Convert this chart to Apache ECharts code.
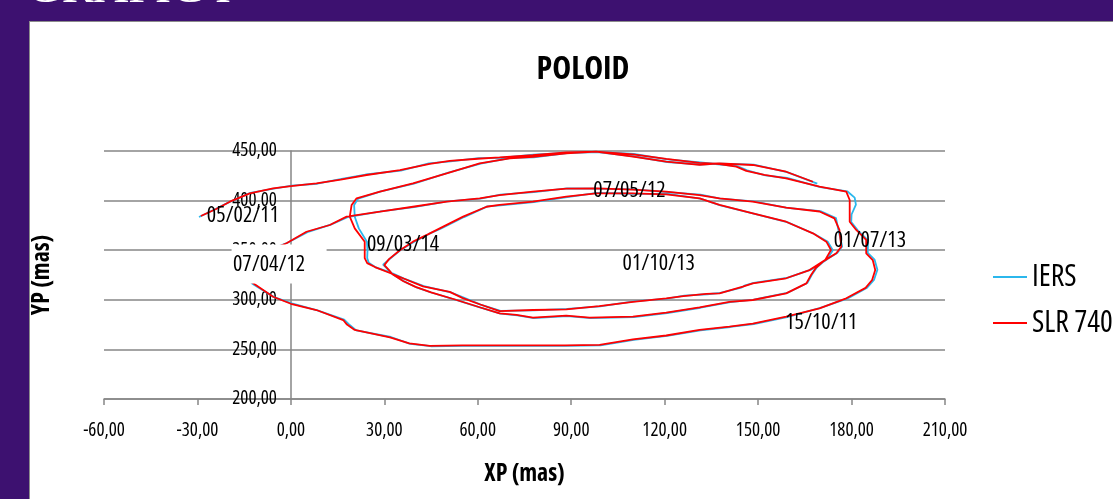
<!DOCTYPE html>
<html><head><meta charset="utf-8">
<script src="https://cdn.jsdelivr.net/npm/echarts@6/dist/echarts.min.js"></script>
<style>
html,body{margin:0;padding:0;width:1113px;height:499px;overflow:hidden;background:#3d1170;}
#frame{position:absolute;left:29px;top:21px;width:1200px;height:600px;background:#fff;border:1.5px solid #8c8c8c;box-sizing:border-box;}
#chart{position:absolute;left:0;top:0;width:1113px;height:499px;}
</style></head><body>
<div id="frame"></div><div id="chart"></div>
<script>
// ---- data (XP, YP in mas) ----
const seriesNames = ['IERS', 'SLR 7400'];
const xTickMin = -60, xTickMax = 210, xTickStep = 30;
const yTickMin = 200, yTickMax = 450, yTickStep = 50;

const slr = [
[-28.9,384.5],[-24.0,391.5],[-19.6,398.9],[-13.2,407.3],[-5.7,412.4],[0.0,414.5],[8.2,417.4],[16.0,421.2],[24.3,425.8],[35.0,430.8],[44.6,437.0],[51.0,440.0],[60.0,442.2],[67.0,443.5],[77.7,445.8],[88.4,448.6],[98.0,449.3],[109.8,446.5],[120.5,442.0],[131.2,438.0],[137.6,436.9],[143.0,434.2],[146.2,430.0],[152.0,426.0],[159.0,422.4],[169.7,414.0],[178.3,409.0],[179.4,400.6],[179.4,378.7],[181.5,370.4],[184.7,360.3],[184.7,346.9],[186.8,340.1],[187.6,330.0],[186.6,320.0],[184.5,312.0],[178.3,301.5],[169.7,291.4],[159.0,283.0],[148.3,276.0],[140.8,273.0],[131.2,269.6],[120.5,264.0],[109.8,260.0],[99.1,254.5],[88.0,254.0],[77.7,254.0],[67.0,254.0],[55.0,254.0],[44.6,253.6],[38.0,256.0],[31.8,262.2],[20.5,269.6],[18.0,275.0],[16.8,279.6],[8.2,289.7],[0.0,296.0],[-5.7,303.1],[-12.1,316.6],
[-15.0,326.0],[-15.0,335.0],[-11.0,345.0],[-6.0,351.0],[-1.4,357.0],
[5.0,368.6],[12.5,375.4],[17.9,383.8],[28.6,388.8],[39.2,393.8],[50.0,398.9],[60.6,402.3],[67.0,405.6],[77.7,409.0],[88.4,412.0],[98.0,412.4],[109.8,411.0],[120.5,409.0],[131.2,405.6],[137.6,402.3],[148.3,398.9],[159.0,393.0],[169.7,389.0],[174.5,382.1],[176.1,370.4],[176.7,353.5],[175.1,346.9],[171.0,339.0],[168.5,332.0],[167.0,325.0],[165.5,316.6],[159.0,306.5],[148.3,299.8],[140.8,298.0],[131.2,292.4],[120.5,287.1],[109.8,283.0],[95.9,282.0],[88.4,284.0],[77.7,282.0],[72.4,284.7],[67.0,286.4],[60.6,292.5],[53.2,299.8],[45.0,307.5],[40.0,313.0],[36.0,319.0],[32.5,326.0],[31.5,330.0],[30.0,335.0],
[31.5,341.0],[35.0,350.0],[39.2,358.6],[44.0,366.0],[47.8,372.0],[55.3,383.8],[62.8,393.8],[67.0,395.6],[77.7,398.9],[88.4,404.0],[98.0,407.3],[109.8,407.3],[120.5,406.3],[131.2,402.3],[137.6,395.6],[148.3,387.2],[159.0,378.7],[167.6,367.0],[171.9,358.6],[173.4,350.2],[171.5,340.0],[166.5,330.0],[159.0,321.7],[148.3,316.6],[145.1,313.2],[137.6,306.5],[133.4,306.0],[126.0,303.8],[120.5,301.5],[109.8,298.0],[99.0,293.7],[88.4,290.4],[77.7,289.7],[67.0,288.5],[60.6,295.5],[55.0,302.0],[51.0,308.0],[42.4,313.5],[36.0,321.7],[31.8,327.0],[27.0,333.0],[24.5,337.0],[23.7,342.0],[23.7,350.0],[23.7,358.6],[20.5,372.0],[18.9,383.8],[19.5,395.6],[21.1,402.3],
[28.6,409.0],[39.2,417.4],[50.0,427.5],[60.6,437.6],[70.3,442.6],[77.7,444.0],[88.4,447.6],[98.0,449.3],[109.8,444.3],[120.5,439.3],[131.2,436.0],[137.6,437.6],[148.3,435.9],[159.0,429.1],[167.6,419.0]
];

const iers = [
[-29.5,383.5],[-24.5,391.0],[-19.8,398.5],[-13.0,407.8],[-5.5,412.0],[0.3,415.0],[8.5,417.0],[16.3,421.8],[24.0,426.3],[35.3,430.3],[44.3,437.5],[51.3,439.6],[60.3,442.8],[67.3,443.0],[77.9,446.3],[88.1,448.1],[98.3,449.0],[110.1,447.0],[120.8,441.5],[131.5,438.4],[137.9,436.4],[143.3,434.7],[146.5,430.4],[152.3,425.5],[159.3,422.8],[170.0,413.6],[178.6,409.4],[181.0,403.0],[181.4,396.0],[180.0,386.0],[179.9,378.4],[182.0,370.0],[185.3,360.0],[185.2,347.2],[187.4,340.4],[188.3,330.3],[187.2,320.0],[185.0,312.3],[178.6,301.1],[170.0,291.8],[159.3,282.6],[148.6,275.6],[141.1,272.6],[131.5,269.2],[120.8,263.6],[110.1,259.6],[99.4,254.0],[88.3,253.5],[78.0,253.5],[67.3,253.5],[55.3,253.5],[44.9,253.2],[38.3,255.6],[32.1,262.5],[21.0,269.2],[18.6,275.5],[17.1,280.0],[8.5,289.3],[0.3,296.4],[-5.4,302.7],[-12.4,316.2],
[-15.3,326.0],[-15.3,335.0],[-11.3,345.0],[-6.3,351.2],[-1.1,357.5],
[5.3,368.2],[12.8,375.8],[18.2,383.4],[28.9,389.2],[39.5,393.4],[50.3,399.3],[60.9,401.9],[67.3,406.0],[78.0,408.6],[88.7,412.4],[98.3,412.0],[110.1,411.4],[120.8,408.6],[131.5,406.0],[137.9,401.9],[148.6,399.3],[159.3,392.6],[170.0,389.4],[175.0,382.5],[175.8,370.0],[177.0,353.8],[175.4,347.2],[171.3,339.4],[168.8,332.4],[167.3,325.4],[165.8,317.0],[159.3,306.9],[148.6,300.2],[141.1,297.6],[131.5,292.0],[120.8,286.7],[110.1,282.6],[96.2,281.6],[88.7,283.6],[78.0,281.6],[72.7,284.3],[67.3,286.0],[60.9,292.1],[53.5,299.4],[45.3,307.1],[40.3,312.6],[36.3,318.6],[32.8,325.6],[31.2,330.4],[29.6,335.4],
[31.8,341.4],[35.3,350.4],[39.5,358.2],[44.3,366.4],[48.1,371.6],[55.6,383.4],[63.1,394.2],[67.3,395.2],[78.0,398.5],[88.7,403.6],[98.3,407.7],[110.1,406.9],[120.8,406.7],[131.5,401.9],[137.9,395.2],[148.6,386.8],[159.3,378.3],[167.9,366.6],[172.4,358.4],[174.0,350.0],[172.0,340.3],[167.0,330.4],[159.3,322.1],[148.6,317.0],[145.6,314.2],[144.6,312.2],[137.9,306.9],[133.7,305.6],[126.3,304.2],[120.8,301.1],[110.1,298.4],[99.3,293.3],[88.7,290.8],[78.0,289.3],[67.3,288.9],[60.9,295.1],[55.3,302.4],[51.3,307.6],[42.7,313.9],[36.3,321.3],[32.1,327.4],[27.3,332.6],[25.0,337.4],[24.5,342.0],[24.6,350.0],[24.4,358.6],[21.8,372.0],[20.5,383.8],[20.3,395.6],[21.6,402.0],
[28.9,409.4],[39.5,417.0],[50.3,427.9],[60.9,437.2],[70.6,443.0],[78.0,443.6],[88.7,448.0],[98.3,448.9],[110.1,444.7],[120.8,438.9],[131.5,436.4],[137.9,437.2],[148.6,436.3],[159.3,428.7],[169.0,417.2]
];

// date annotations (positions in data units)
const dateLabels = ['05/02/11','07/04/12','09/03/14','07/05/12','01/10/13','01/07/13','15/10/11'];
const dateXP =     [-15.4,      -7.0,      36.0,      108.7,     118.1,     185.9,     170.3];
const dateYP =     [384.5,      335.1,     355.2,     409.9,     336.8,     359.1,     277.1];

// ---- chart ----
const FAM = "'Open Sans','Liberation Sans',sans-serif";
const STRETCH = 'condensed';
const fmt = v => v.toFixed(2).replace('.', ',');
const GRID_LEFT = 104;
const chart = echarts.init(document.getElementById('chart'), null, {renderer: 'canvas'});

chart.setOption({
  animation: false,
  backgroundColor: 'transparent',
  title: {
    text: 'POLOID', left: 578, top: 49, textAlign: 'center',
    textStyle: {fontFamily: FAM, fontStyle: STRETCH, fontWeight: 'bold', fontSize: 32, color: '#000'}
  },
  legend: {
    orient: 'vertical', left: 993, top: 262, padding: 0, itemWidth: 34, itemHeight: 2, icon: 'rect',
    itemGap: 16, data: seriesNames,
    textStyle: {fontFamily: FAM, fontStyle: STRETCH, fontSize: 30, color: '#000', lineHeight: 30}
  },
  grid: {left: GRID_LEFT, right: 168, top: 151, bottom: 100, containLabel: false, outerBoundsMode: 'none'},
  xAxis: {
    type: 'value', min: xTickMin, max: xTickMax, interval: xTickStep,
    axisLine: {onZero: false, lineStyle: {color: '#868686', width: 1.5}},
    axisTick: {show: true, length: 6, lineStyle: {color: '#868686', width: 1.5}},
    axisLabel: {margin: 22, fontSize: 19, color: '#000', fontFamily: FAM, fontStyle: STRETCH, formatter: fmt},
    splitLine: {show: false},
    name: 'XP (mas)', nameLocation: 'middle', nameGap: 63,
    nameTextStyle: {fontFamily: FAM, fontStyle: STRETCH, fontWeight: 'bold', fontSize: 24, color: '#000'}
  },
  yAxis: {
    type: 'value', min: yTickMin, max: yTickMax, interval: yTickStep,
    axisLine: {show: true, onZero: false, lineStyle: {color: '#868686', width: 1.5}},
    axisTick: {show: false},
    axisLabel: {margin: 14, fontSize: 19, color: '#000', fontFamily: FAM, fontStyle: STRETCH, formatter: fmt},
    splitLine: {show: true, lineStyle: {color: '#868686', width: 1.5}},
    name: 'YP (mas)', nameLocation: 'middle', nameGap: 237, nameRotate: 90,
    nameTextStyle: {fontFamily: FAM, fontStyle: STRETCH, fontWeight: 'bold', fontSize: 24, color: '#000'}
  },
  series: [
    {name: seriesNames[0], type: 'line', data: iers, symbol: 'none', showSymbol: false,
     lineStyle: {color: '#2bb7ec', width: 1.8}, itemStyle: {color: '#2bb7ec'}, z: 2},
    {name: seriesNames[1], type: 'line', data: slr, symbol: 'none', showSymbol: false,
     lineStyle: {color: '#ff0000', width: 1.8}, itemStyle: {color: '#ff0000'}, z: 3}
  ]
});

// put the whole y axis (line, labels, name) where XP = 0, like the original
const zeroPx = chart.convertToPixel({xAxisIndex: 0}, 0);
chart.setOption({yAxis: {offset: -(zeroPx - GRID_LEFT)}});

// annotations placed through the chart's own scales
const graphics = [{
  type: 'text', left: 27, top: -35, z: 100,
  style: {text: 'GRAFIC I', font: "48px 'Liberation Serif', serif", fill: '#ffffff'}
}];
dateLabels.forEach((t, i) => {
  const p = chart.convertToPixel({gridIndex: 0}, [dateXP[i], dateYP[i]]);
  if (t === '07/04/12') {
    graphics.push({type: 'rect', z: 99, shape: {x: p[0] - 37.5, y: p[1] - 20.5, width: 95, height: 39},
      style: {fill: '#ffffff'}});
  }
  graphics.push({type: 'text', x: p[0], y: p[1], z: 100,
    style: {text: t, font: STRETCH + " 22px " + FAM, fill: '#000',
      align: 'center', verticalAlign: 'middle'}});
});
chart.setOption({graphic: graphics});
</script></body></html>
